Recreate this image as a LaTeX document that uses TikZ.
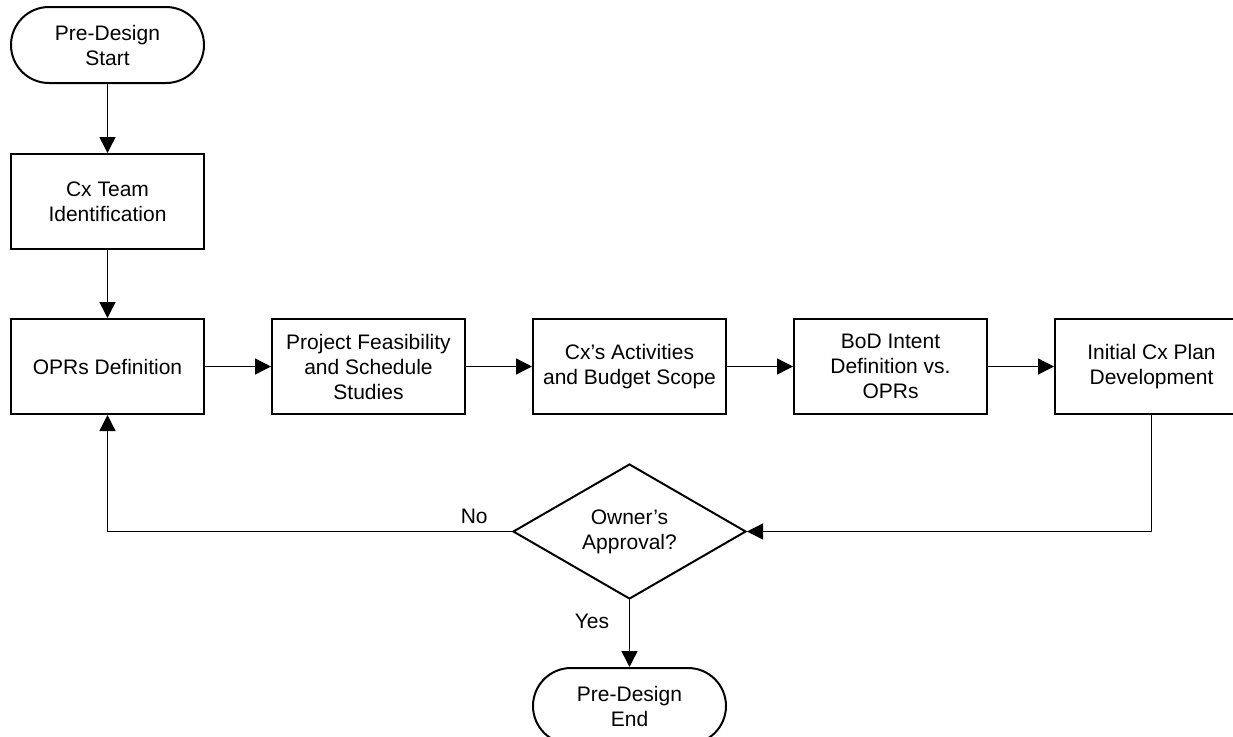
\documentclass[tikz,border=0pt]{standalone}
\usepackage{fontspec}
\setmainfont{Liberation Sans}
\usetikzlibrary{positioning,arrows.meta,shapes.geometric}

\begin{document}
\begin{tikzpicture}[
  node distance=34pt and 33pt,
  proc/.style={draw, line width=1pt, align=center, font=\fontsize{10.5}{12.5}\selectfont, minimum width=96.5pt, minimum height=47.5pt, inner sep=2pt},
  term/.style={draw, line width=1pt, align=center, font=\fontsize{10.5}{12.5}\selectfont, rounded corners=19pt, minimum width=96.5pt, minimum height=38pt},
  dec/.style={draw, diamond, line width=1pt, align=center, font=\fontsize{10.5}{12.5}\selectfont, aspect=2, inner sep=0pt, minimum width=116.5pt, minimum height=67.5pt},
  lbl/.style={font=\fontsize{10.5}{12.5}\selectfont, inner sep=1pt},
  arr/.style={-{Triangle[length=8pt,width=8pt]}, line width=0.7pt}
]
\useasboundingbox (0,0) rectangle (616.5pt,-368pt);

\node[term] (Start) at (53.75pt,-22.5pt) {Pre-Design\\Start};
\node[proc, below=34.5pt of Start] (Team) {Cx Team\\Identification};
\node[proc, below=of Team] (OPR) {OPRs Definition};
\node[proc, right=of OPR] (Feas) {Project Feasibility\\and Schedule\\Studies};
\node[proc, right=of Feas] (Act) {Cx’s Activities\\and Budget Scope};
\node[proc, right=of Act] (BoD) {BoD Intent\\Definition vs.\\OPRs};
\node[proc, right=of BoD] (Plan) {Initial Cx Plan\\Development};

\node[dec, below=24pt of Act] (Appr) {Owner’s\\Approval?};
\node[term, below=33.5pt of Appr] (End) {Pre-Design\\End};

\node[lbl, above left=2.5pt and 11pt of Appr.west] (No) {No};
\node[lbl, below left=6pt and 9pt of Appr.south] (Yes) {Yes};

\draw[arr] (Start) -- (Team);
\draw[arr] (Team) -- (OPR);
\draw[arr] (OPR) -- (Feas);
\draw[arr] (Feas) -- (Act);
\draw[arr] (Act) -- (BoD);
\draw[arr] (BoD) -- (Plan);
\draw[arr] (Plan.south) |- (Appr.east);
\draw[arr] (Appr.west) -| (OPR.south);
\draw[arr] (Appr.south) -- (End);
\end{tikzpicture}
\end{document}
